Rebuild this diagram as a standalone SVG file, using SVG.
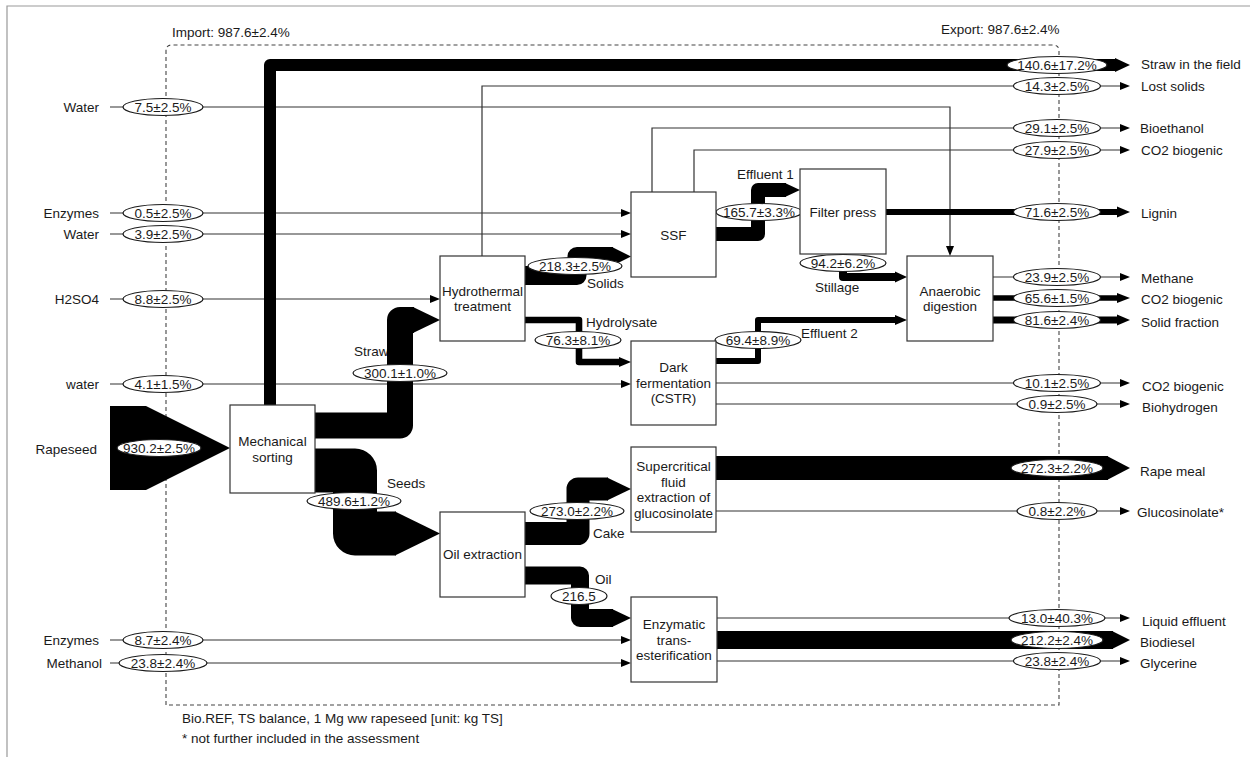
<svg xmlns="http://www.w3.org/2000/svg" width="1250" height="757" viewBox="0 0 1250 757">
<style>
.t{font-family:"Liberation Sans",Arial,sans-serif;font-size:13.5px;fill:#1a1a1a}
.m{text-anchor:middle}
.e{text-anchor:end}
.ln{fill:none;stroke:#333;stroke-width:1.2}
.bd{fill:none;stroke:#000;stroke-linejoin:round}
.ah{fill:#000}
.el{fill:#fff;stroke:#1a1a1a;stroke-width:1.2}
.box{fill:#fff;stroke:#333;stroke-width:1.2}
</style>
<defs>
<marker id="a" markerUnits="userSpaceOnUse" markerWidth="10" markerHeight="8" refX="2" refY="4" orient="auto"><path d="M0,0 L10,4 L0,8 z" fill="#000"/></marker>
</defs>
<rect width="1250" height="757" fill="#fff"/>
<path d="M7,757 V6 H1250" fill="none" stroke="#999" stroke-width="1.2"/>
<path d="M166,705 V51 Q166,45 172,45 H1053 Q1059,45 1059,51 V705 Z" fill="none" stroke="#444" stroke-width="1.1" stroke-dasharray="4,3"/>
<text class="t" x="172" y="37">Import: 987.6±2.4%</text>
<text class="t" x="941" y="34">Export: 987.6±2.4%</text>

<g id="connectors">
<!-- thin lines -->
<path class="ln" d="M110,107 H950 V248" marker-end="url(#a)"/>
<path class="ln" d="M110,213 H623" marker-end="url(#a)"/>
<path class="ln" d="M110,234 H623" marker-end="url(#a)"/>
<path class="ln" d="M110,299 H432" marker-end="url(#a)"/>
<path class="ln" d="M110,384 H623" marker-end="url(#a)"/>
<path class="ln" d="M110,640 H623" marker-end="url(#a)"/>
<path class="ln" d="M110,663 H623" stroke-width="2" marker-end="url(#a)"/>
<path class="ln" d="M482,256 V86 H1122" stroke-width="1.3" marker-end="url(#a)"/>
<path class="ln" d="M652,192 V128 H1122" stroke="#000" stroke-width="2.5" marker-end="url(#a)"/>
<path class="ln" d="M694,192 V150 H1122" stroke="#000" stroke-width="2.4" marker-end="url(#a)"/>
<path class="ln" d="M993,277 H1122" stroke-width="2" marker-end="url(#a)"/>
<path class="ln" d="M716,383 H1122" marker-end="url(#a)"/>
<path class="ln" d="M716,404 H1122" marker-end="url(#a)"/>
<path class="ln" d="M716,511 H1122" marker-end="url(#a)"/>
<path class="ln" d="M717,618 H1122" marker-end="url(#a)"/>
<path class="ln" d="M717,661 H1122" stroke-width="2" marker-end="url(#a)"/>
<text class="t" x="354" y="356">Straw</text>
<!-- bands -->
<polygon class="ah" points="110,406 146,406 230,448 146,490 110,490"/>
<path class="bd" d="M270,405 V65 H1117" stroke-width="12"/>
<polygon class="ah" points="1115,58 1130,65 1115,72"/>
<path class="bd" d="M315,425.5 H400 V320 H414" stroke-width="26"/>
<polygon class="ah" points="413,307 440,320 413,333"/>
<path class="bd" d="M315,470.5 H355 V533.5 H396" stroke-width="44"/>
<polygon class="ah" points="395,511.5 440,533.5 395,555.5"/>
<path class="bd" d="M525,275.5 H577 V256.5 H613" stroke-width="19"/>
<polygon class="ah" points="612,247 631,256.5 612,266"/>
<path class="bd" d="M525,320 H579 V362 H620" stroke-width="6.6"/>
<polygon class="ah" points="619,357 631,362 619,367"/>
<path class="bd" d="M716,234 H758 V190 H786" stroke-width="14"/>
<polygon class="ah" points="785,183 800,190 785,197"/>
<path class="bd" d="M843,254 V277 H896" stroke-width="8"/>
<polygon class="ah" points="895,271.5 907,277 895,282.5"/>
<path class="bd" d="M716,361 H758 V320 H896" stroke-width="6"/>
<polygon class="ah" points="895,315 907,320 895,325"/>
<path class="bd" d="M886,212 H1118" stroke-width="6.2"/>
<polygon class="ah" points="1117,206.5 1130,212 1117,217.5"/>
<path class="bd" d="M993,298 H1118" stroke-width="5.7"/>
<polygon class="ah" points="1117,293 1130,298 1117,303"/>
<path class="bd" d="M993,320 H1118" stroke-width="7"/>
<polygon class="ah" points="1117,314.5 1130,320 1117,325.5"/>
<path class="bd" d="M525,533.5 H578 V489 H608" stroke-width="23"/>
<polygon class="ah" points="607,477.5 631,489 607,500.5"/>
<path class="bd" d="M525,575.5 H580 V618 H613" stroke-width="18"/>
<polygon class="ah" points="612,609 631,618 612,627"/>
<path class="bd" d="M716,468 H1108" stroke-width="24"/>
<polygon class="ah" points="1107,456 1130,468 1107,480"/>
<path class="bd" d="M717,640 H1113" stroke-width="18"/>
<polygon class="ah" points="1112,631 1130,640 1112,649"/>
<!-- flow labels -->
<text class="t" x="387" y="488">Seeds</text>
<text class="t" x="587" y="288">Solids</text>
<text class="t" x="586" y="327">Hydrolysate</text>
<text class="t" x="737" y="179">Effluent 1</text>
<text class="t" x="815" y="292">Stillage</text>
<text class="t" x="801" y="338">Effluent 2</text>
<text class="t" x="593" y="538">Cake</text>
<text class="t" x="595" y="584">Oil</text>
<!-- value ellipses -->
<g class="el">
<ellipse cx="163" cy="107" rx="40" ry="8.5"/>
<ellipse cx="163" cy="213" rx="40" ry="8.5"/>
<ellipse cx="163" cy="234" rx="40" ry="8.5"/>
<ellipse cx="163" cy="299" rx="40" ry="8.5"/>
<ellipse cx="163" cy="384" rx="40" ry="8.5"/>
<ellipse cx="159" cy="448" rx="42" ry="8.5"/>
<ellipse cx="163" cy="640" rx="40" ry="8.5"/>
<ellipse cx="163" cy="663" rx="44" ry="8.5"/>
<ellipse cx="400" cy="373" rx="47" ry="8.5"/>
<ellipse cx="354" cy="501" rx="47" ry="8.5"/>
<ellipse cx="575" cy="266" rx="47" ry="8.5"/>
<ellipse cx="578" cy="340" rx="43" ry="8.5"/>
<ellipse cx="759" cy="212" rx="43" ry="8.5"/>
<ellipse cx="843" cy="263" rx="43" ry="8.5"/>
<ellipse cx="758" cy="340" rx="43" ry="8.5"/>
<ellipse cx="577" cy="511" rx="47" ry="8.5"/>
<ellipse cx="579" cy="596" rx="28" ry="8.5"/>
<ellipse cx="1057" cy="65" rx="50" ry="8.5"/>
<ellipse cx="1057" cy="86" rx="43.5" ry="8.5"/>
<ellipse cx="1057" cy="128" rx="43.5" ry="8.5"/>
<ellipse cx="1057" cy="150" rx="43.5" ry="8.5"/>
<ellipse cx="1057" cy="212" rx="43.5" ry="8.5"/>
<ellipse cx="1057" cy="277" rx="43.5" ry="8.5"/>
<ellipse cx="1057" cy="298" rx="43.5" ry="8.5"/>
<ellipse cx="1057" cy="320" rx="43.5" ry="8.5"/>
<ellipse cx="1057" cy="383" rx="43.5" ry="8.5"/>
<ellipse cx="1057" cy="404" rx="40" ry="8.5"/>
<ellipse cx="1057" cy="468" rx="46" ry="8.5"/>
<ellipse cx="1057" cy="511" rx="40" ry="8.5"/>
<ellipse cx="1057" cy="618" rx="48" ry="8.5"/>
<ellipse cx="1057" cy="640" rx="46" ry="8.5"/>
<ellipse cx="1057" cy="661" rx="43.5" ry="8.5"/>
</g>
<g class="t m">
<text x="163" y="112">7.5±2.5%</text>
<text x="163" y="218">0.5±2.5%</text>
<text x="163" y="239">3.9±2.5%</text>
<text x="163" y="304">8.8±2.5%</text>
<text x="163" y="389">4.1±1.5%</text>
<text x="159" y="453">930.2±2.5%</text>
<text x="163" y="645">8.7±2.4%</text>
<text x="163" y="668">23.8±2.4%</text>
<text x="400" y="378">300.1±1.0%</text>
<text x="354" y="506">489.6±1.2%</text>
<text x="575" y="271">218.3±2.5%</text>
<text x="578" y="345">76.3±8.1%</text>
<text x="759" y="217">165.7±3.3%</text>
<text x="843" y="268">94.2±6.2%</text>
<text x="758" y="345">69.4±8.9%</text>
<text x="577" y="516">273.0±2.2%</text>
<text x="579" y="601">216.5</text>
<text x="1057" y="70">140.6±17.2%</text>
<text x="1057" y="91">14.3±2.5%</text>
<text x="1057" y="133">29.1±2.5%</text>
<text x="1057" y="155">27.9±2.5%</text>
<text x="1057" y="217">71.6±2.5%</text>
<text x="1057" y="282">23.9±2.5%</text>
<text x="1057" y="303">65.6±1.5%</text>
<text x="1057" y="325">81.6±2.4%</text>
<text x="1057" y="388">10.1±2.5%</text>
<text x="1057" y="409">0.9±2.5%</text>
<text x="1057" y="473">272.3±2.2%</text>
<text x="1057" y="516">0.8±2.2%</text>
<text x="1057" y="623">13.0±40.3%</text>
<text x="1057" y="645">212.2±2.4%</text>
<text x="1057" y="666">23.8±2.4%</text>
</g>
</g>

<g id="node-mechanical-sorting"><rect class="box" x="230" y="405" width="85" height="88"/><text class="t m" x="272.5" y="446">Mechanical</text><text class="t m" x="272.5" y="462">sorting</text></g>
<g id="node-hydrothermal"><rect class="box" x="440" y="256" width="85" height="85"/><text class="t m" x="482.5" y="296">Hydrothermal</text><text class="t m" x="482.5" y="311">treatment</text></g>
<g id="node-ssf"><rect class="box" x="631" y="192" width="85" height="85"/><text class="t m" x="673.5" y="240">SSF</text></g>
<g id="node-filter-press"><rect class="box" x="800" y="169" width="86" height="85"/><text class="t m" x="843" y="217">Filter press</text></g>
<g id="node-anaerobic"><rect class="box" x="907" y="256" width="86" height="85"/><text class="t m" x="950" y="296">Anaerobic</text><text class="t m" x="950" y="311">digestion</text></g>
<g id="node-dark-fermentation"><rect class="box" x="631" y="341" width="85" height="84"/><text class="t m" x="673.5" y="372">Dark</text><text class="t m" x="673.5" y="387.5">fermentation</text><text class="t m" x="673.5" y="403">(CSTR)</text></g>
<g id="node-supercritical"><rect class="box" x="631" y="447" width="85" height="85"/><text class="t m" x="673.5" y="471">Supercritical</text><text class="t m" x="673.5" y="486.5">fluid</text><text class="t m" x="673.5" y="502">extraction of</text><text class="t m" x="673.5" y="518">glucosinolate</text></g>
<g id="node-oil-extraction"><rect class="box" x="440" y="512" width="85" height="85"/><text class="t m" x="482.5" y="559">Oil extraction</text></g>
<g id="node-enzymatic"><rect class="box" x="631" y="597" width="86" height="85"/><text class="t m" x="674" y="629">Enzymatic</text><text class="t m" x="674" y="645">trans-</text><text class="t m" x="674" y="660">esterification</text></g>

<g id="inputs" class="t e">
<text x="99" y="112">Water</text>
<text x="99" y="218">Enzymes</text>
<text x="99" y="239">Water</text>
<text x="99" y="304">H2SO4</text>
<text x="99" y="389">water</text>
<text x="97" y="454">Rapeseed</text>
<text x="99" y="645">Enzymes</text>
<text x="102" y="668">Methanol</text>
</g>
<g id="outputs" class="t">
<text x="1141" y="69">Straw in the field</text>
<text x="1141" y="91">Lost solids</text>
<text x="1140" y="133">Bioethanol</text>
<text x="1141" y="155">CO2 biogenic</text>
<text x="1141" y="218">Lignin</text>
<text x="1141" y="283">Methane</text>
<text x="1141" y="304">CO2 biogenic</text>
<text x="1141" y="327">Solid fraction</text>
<text x="1142" y="391">CO2 biogenic</text>
<text x="1142" y="412">Biohydrogen</text>
<text x="1140" y="476">Rape meal</text>
<text x="1137" y="517">Glucosinolate*</text>
<text x="1142" y="626">Liquid effluent</text>
<text x="1140" y="647">Biodiesel</text>
<text x="1140" y="668">Glycerine</text>
</g>
<g id="notes" class="t">
<text x="182" y="723">Bio.REF, TS balance, 1 Mg ww rapeseed [unit: kg TS]</text>
<text x="182" y="743">* not further included in the assessment</text>
</g>
</svg>
